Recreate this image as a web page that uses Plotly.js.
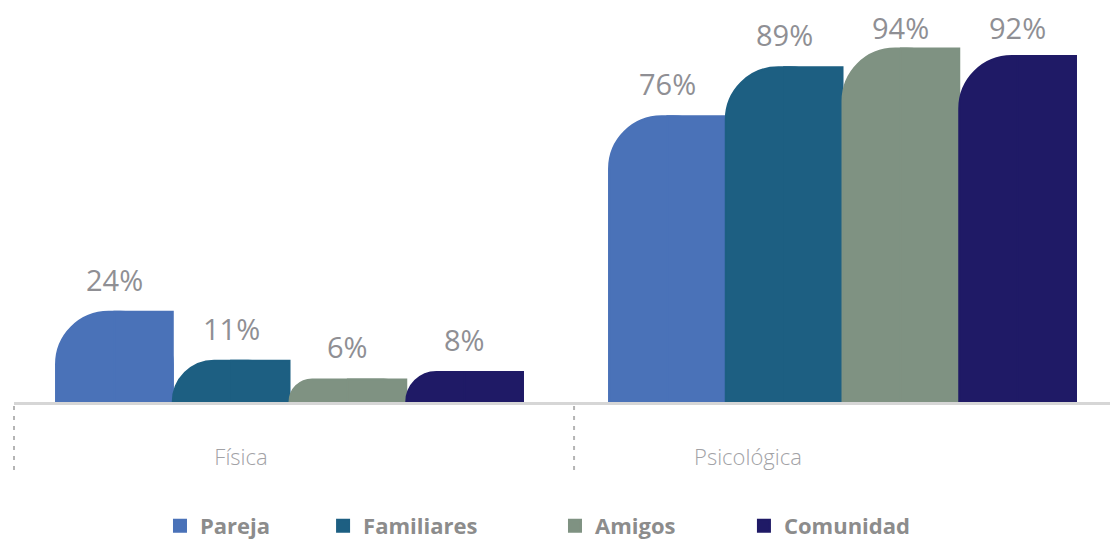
<!DOCTYPE html>
<html>
<head>
<meta charset="utf-8">
<script src="https://cdn.plot.ly/plotly-3.0.1.min.js"></script>
<style>html,body{margin:0;padding:0;background:#fff;}#chart{width:1110px;height:540px;}</style>
</head>
<body>
<div id="chart"></div>
<script>
// ---- data ----
const categories = ["Física", "Psicológica"];
const seriesNames = ["Pareja", "Familiares", "Amigos", "Comunidad"];
const pareja     = [24, 76];
const familiares = [11, 89];
const amigos     = [6, 94];
const comunidad  = [8, 92];
const seriesValues = [pareja, familiares, amigos, comunidad];
const colors = ["#4a72b8", "#1d5f82", "#7f9282", "#1f1a66"];

// ---- layout helpers ----
const xIdx = categories.map((c, i) => i);
const barW = 0.2111;
const offsets = [-2 * barW, -barW, 0, barW];
const legendX = [0.1332, 0.282, 0.4936, 0.666];
const labelCap = 91; // keep the value labels inside the top of the chart

const traces = [];
const annotations = [];
seriesValues.forEach((vals, k) => {
  // full bar, rounded top corners
  traces.push({
    type: "bar", x: xIdx, y: vals, name: seriesNames[k],
    width: barW, offset: offsets[k],
    marker: { color: colors[k], cornerradius: "45%", line: { width: 2, color: colors[k] } },
    showlegend: false, hoverinfo: "skip"
  });
  // square right half, so only the top-left corner stays rounded
  traces.push({
    type: "bar", x: xIdx, y: vals, name: seriesNames[k],
    width: barW / 2, offset: offsets[k] + barW / 2,
    marker: { color: colors[k], line: { width: 2, color: colors[k] } },
    legend: k === 0 ? "legend" : "legend" + (k + 1),
    hoverinfo: "skip"
  });
  vals.forEach((v, i) => {
    annotations.push({
      x: xIdx[i] + offsets[k] + barW / 2, y: Math.min(v, labelCap), xref: "x", yref: "y",
      text: v + "%", showarrow: false, yanchor: "bottom", yshift: 11,
      font: { family: "Open Sans", size: 29, color: "#8f8f94" }
    });
  });
});

const layout = {
  width: 1110, height: 540,
  margin: { l: 14, r: 0, t: 0, b: 138, autoexpand: false },
  paper_bgcolor: "#fff", plot_bgcolor: "#fff",
  barmode: "overlay",
  xaxis: {
    range: [-0.4982, 1.4837], showgrid: false, zeroline: false,
    showline: true, linecolor: "#d6d6d6", linewidth: 3,
    tickvals: [-0.0877, 0.829], ticktext: categories,
    ticks: "outside", ticklen: 34, tickcolor: "rgba(0,0,0,0)",
    tickfont: { family: "Open Sans", size: 22, color: "#a2a2a6", weight: 300 }
  },
  yaxis: { range: [0, 106.9], visible: false, showgrid: false, zeroline: false },
  annotations: annotations,
  shapes: [0, 0.511].map(px => ({
    type: "line", xref: "paper", yref: "paper", x0: px, x1: px, y0: -0.01, y1: -0.169,
    line: { color: "#b4b4b4", width: 2, dash: "4px,6px" }
  })),
  showlegend: true
};
const legFont = { family: "Open Sans", size: 22, color: "#8c8c8c", weight: 700 };
["legend", "legend2", "legend3", "legend4"].forEach((name, k) => {
  layout[name] = {
    x: legendX[k], y: 0.026, xref: "paper", yref: "container",
    xanchor: "left", yanchor: "middle",
    orientation: "h", font: legFont, bgcolor: "rgba(0,0,0,0)",
    borderwidth: 0, itemclick: false, itemdoubleclick: false
  };
});

Plotly.newPlot("chart", traces, layout, { displayModeBar: false, staticPlot: true });
</script>
</body>
</html>
